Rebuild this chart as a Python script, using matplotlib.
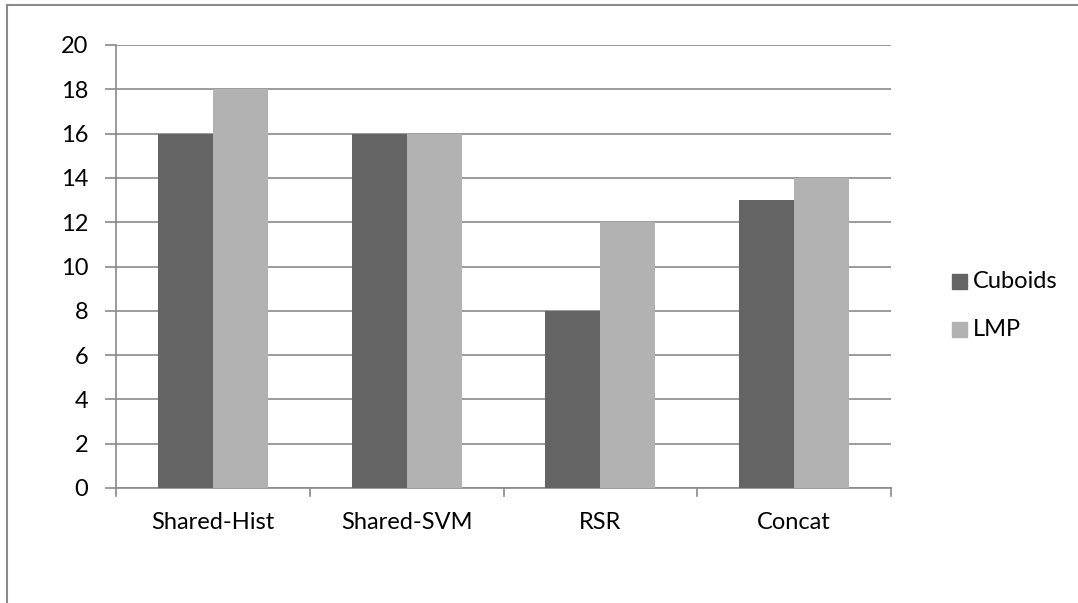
import numpy as np
import matplotlib
matplotlib.use("Agg")
import matplotlib.pyplot as plt
from matplotlib.lines import Line2D
from matplotlib.patches import Rectangle

methods = ["Shared-Hist", "Shared-SVM", "RSR", "Concat"]
cuboids = [16, 16, 8, 13]
lmp = [18, 16, 12, 14]
series = ["Cuboids", "LMP"]

DARK, LIGHT, GRID = "#646464", "#b2b2b2", "#8a8a8a"
FS = 17
plt.rcParams["font.family"] = ["Lato", "DejaVu Sans"]

W, H = 1078, 603
fig = plt.figure(figsize=(W / 100, H / 100), dpi=100)
ax = fig.add_axes([116 / W, 1 - 488 / H, (891 - 116) / W, (488 - 45) / H])

x = np.arange(len(methods))
bw = 0.284
ax.bar(x - bw / 2, cuboids, bw, color=DARK, zorder=3)
ax.bar(x + bw / 2, lmp, bw, color=LIGHT, zorder=3)

ax.set_xlim(-0.5, len(methods) - 0.5)
ax.set_ylim(0, 20)
ax.set_yticks(range(0, 21, 2))
ax.yaxis.grid(True, color=GRID, lw=1.2, zorder=0)
ax.set_xticks(x)
ax.set_xticklabels(methods, fontsize=FS)
ax.tick_params(axis="x", length=0, pad=17)
ax.tick_params(axis="y", length=8, width=1.2, color=GRID, labelsize=FS, pad=12)
for s in ["top", "right"]:
    ax.spines[s].set_visible(False)
for s in ["left", "bottom"]:
    ax.spines[s].set_color(GRID)
    ax.spines[s].set_linewidth(1.2)
# category separators below the axis
for b in np.arange(-0.5, len(methods), 1.0):
    ax.plot([b, b], [0, -0.36], color=GRID, lw=1.2, clip_on=False)

# legend
for i, (name, col) in enumerate(zip(series, [DARK, LIGHT])):
    yc = 1 - (281 + i * 49) / H
    fig.patches.append(Rectangle((952 / W, yc - 7.5 / H), 15 / W, 15 / H,
                                 transform=fig.transFigure, color=col))
    fig.text(973 / W, yc, name, fontsize=FS, va="center")

# outer frame (left and top edges)
fig.add_artist(Line2D([7 / W, 7 / W], [0, 1 - 5 / H], color="#8a8a8a", lw=1.5))
fig.add_artist(Line2D([7 / W, 1], [1 - 5 / H, 1 - 5 / H], color="#8a8a8a", lw=1.5))

fig.savefig("out.png", dpi=100)
